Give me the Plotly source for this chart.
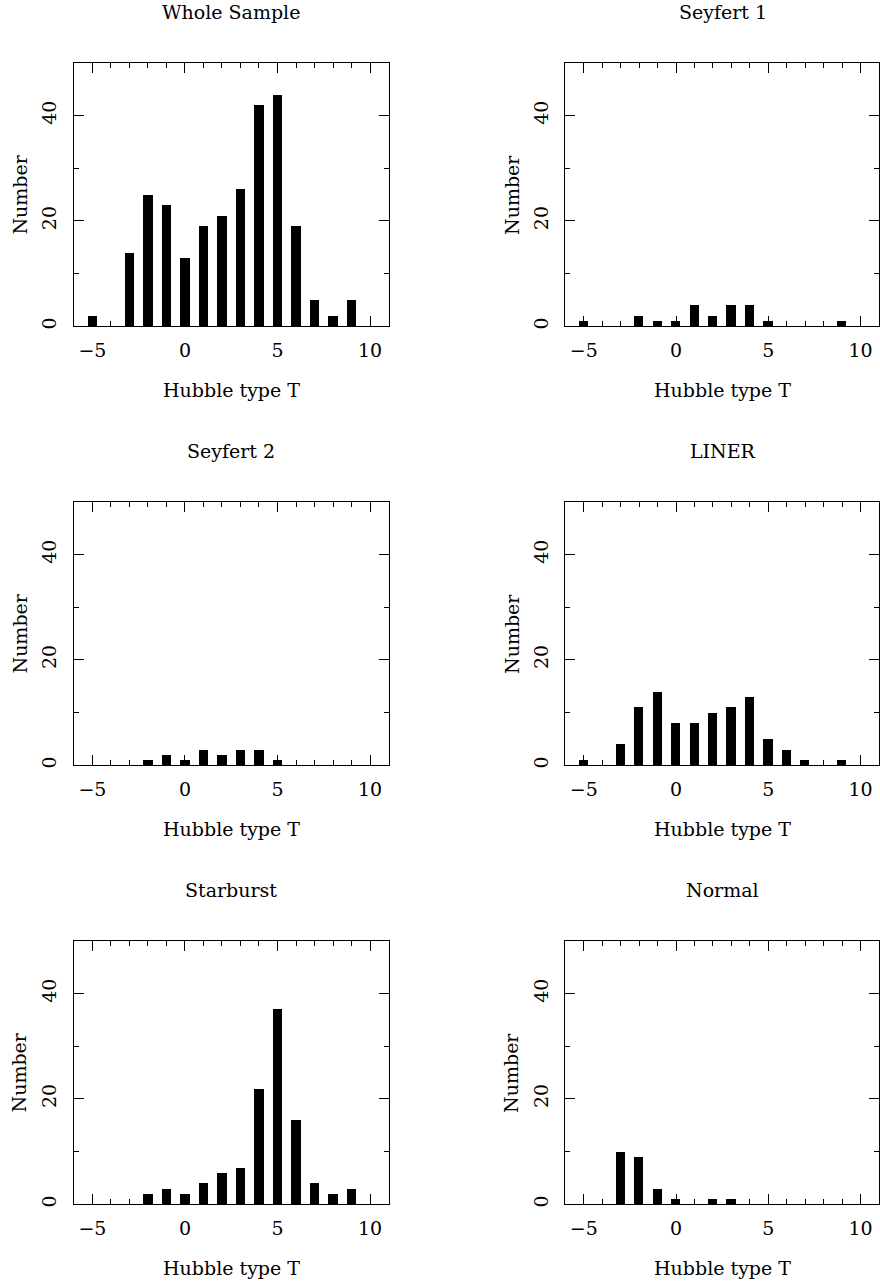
import plotly.graph_objects as go

# Hubble type T bins
hubble_t = [-5, -4, -3, -2, -1, 0, 1, 2, 3, 4, 5, 6, 7, 8, 9, 10]

# Counts per Hubble type for each activity class
whole_sample = [2, 0, 14, 25, 23, 13, 19, 21, 26, 42, 44, 19, 5, 2, 5, 0]
seyfert_1 = [1, 0, 0, 2, 1, 1, 4, 2, 4, 4, 1, 0, 0, 0, 1, 0]
seyfert_2 = [0, 0, 0, 1, 2, 1, 3, 2, 3, 3, 1, 0, 0, 0, 0, 0]
liner = [1, 0, 4, 11, 14, 8, 8, 10, 11, 13, 5, 3, 1, 0, 1, 0]
starburst = [0, 0, 0, 2, 3, 2, 4, 6, 7, 22, 37, 16, 4, 2, 3, 0]
normal = [0, 0, 10, 9, 3, 1, 0, 1, 1, 0, 0, 0, 0, 0, 0, 0]

panels = [
    ("Whole Sample", whole_sample),
    ("Seyfert 1", seyfert_1),
    ("Seyfert 2", seyfert_2),
    ("LINER", liner),
    ("Starburst", starburst),
    ("Normal", normal),
]

x_tick_vals = [-5, 0, 5, 10]
x_tick_text = ["\u22125", "0", "5", "10"]
y_tick_vals = [0, 20, 40]
y_tick_text = ["0", "20", "40"]

W, H = 880, 1287
FONT = "DejaVu Serif"
FS = 19

# panel frames in pixels (left, right) per column and (top, bottom) per row
cols = [(74, 389), (566, 880)]
rows = [(63, 327), (503, 767), (943, 1207)]
PANEL_W = 389 - 74

fig = go.Figure()
annotations = []
layout = {}

for i, (title, counts) in enumerate(panels):
    r, c = divmod(i, 2)
    n = i + 1
    xa = "x" if n == 1 else f"x{n}"
    ya = "y" if n == 1 else f"y{n}"
    xkey = "xaxis" if n == 1 else f"xaxis{n}"
    ykey = "yaxis" if n == 1 else f"yaxis{n}"
    left, right = cols[c]
    top, bottom = rows[r]

    fig.add_trace(go.Bar(
        x=hubble_t, y=counts, width=0.5,
        marker=dict(color="black", line=dict(width=0)),
        xaxis=xa, yaxis=ya, showlegend=False,
    ))

    layout[xkey] = dict(
        domain=[left / W, right / W], anchor=ya,
        range=[-6, 11], showgrid=False, zeroline=False,
        showline=True, linecolor="black", linewidth=1, mirror="allticks",
        ticks="inside", ticklen=10, tickwidth=1, tickcolor="black",
        tickmode="array", tickvals=x_tick_vals, ticktext=x_tick_text,
        minor=dict(ticks="inside", ticklen=5, tickwidth=1, tickcolor="black",
                   dtick=1, tick0=0, showgrid=False),
        tickfont=dict(family=FONT, size=FS, color="black"),
        ticklabelstandoff=7,
    )
    layout[ykey] = dict(
        domain=[1 - bottom / H, 1 - top / H], anchor=xa,
        range=[0, 50], showgrid=False, zeroline=False,
        showline=True, linecolor="black", linewidth=1, mirror="allticks",
        ticks="inside", ticklen=10, tickwidth=1, tickcolor="black",
        tickmode="array", tickvals=y_tick_vals, ticktext=y_tick_text,
        minor=dict(ticks="inside", ticklen=5, tickwidth=1, tickcolor="black",
                   dtick=10, tick0=0, showgrid=False),
        tickangle=-90,
        tickfont=dict(family=FONT, size=FS, color="black"),
        ticklabelstandoff=9,
    )

    cx = (left + PANEL_W / 2) / W
    annotations.append(dict(
        text=title, x=cx, y=1 - (top - 51) / H, xref="paper", yref="paper",
        xanchor="center", yanchor="middle", showarrow=False,
        font=dict(family=FONT, size=FS, color="black"),
    ))
    annotations.append(dict(
        text="Hubble type T", x=cx, y=1 - (bottom + 64) / H,
        xref="paper", yref="paper", xanchor="center", yanchor="middle",
        showarrow=False, font=dict(family=FONT, size=FS, color="black"),
    ))
    annotations.append(dict(
        text="Number", x=(left - 54) / W, y=1 - (top + bottom) / 2 / H,
        xref="paper", yref="paper", xanchor="center", yanchor="middle",
        textangle=-90, showarrow=False,
        font=dict(family=FONT, size=FS, color="black"),
    ))

fig.update_layout(
    width=W, height=H,
    margin=dict(l=0, r=0, t=0, b=0),
    paper_bgcolor="white", plot_bgcolor="white",
    bargap=0, annotations=annotations,
    **layout,
)

fig.write_html("out.html")
